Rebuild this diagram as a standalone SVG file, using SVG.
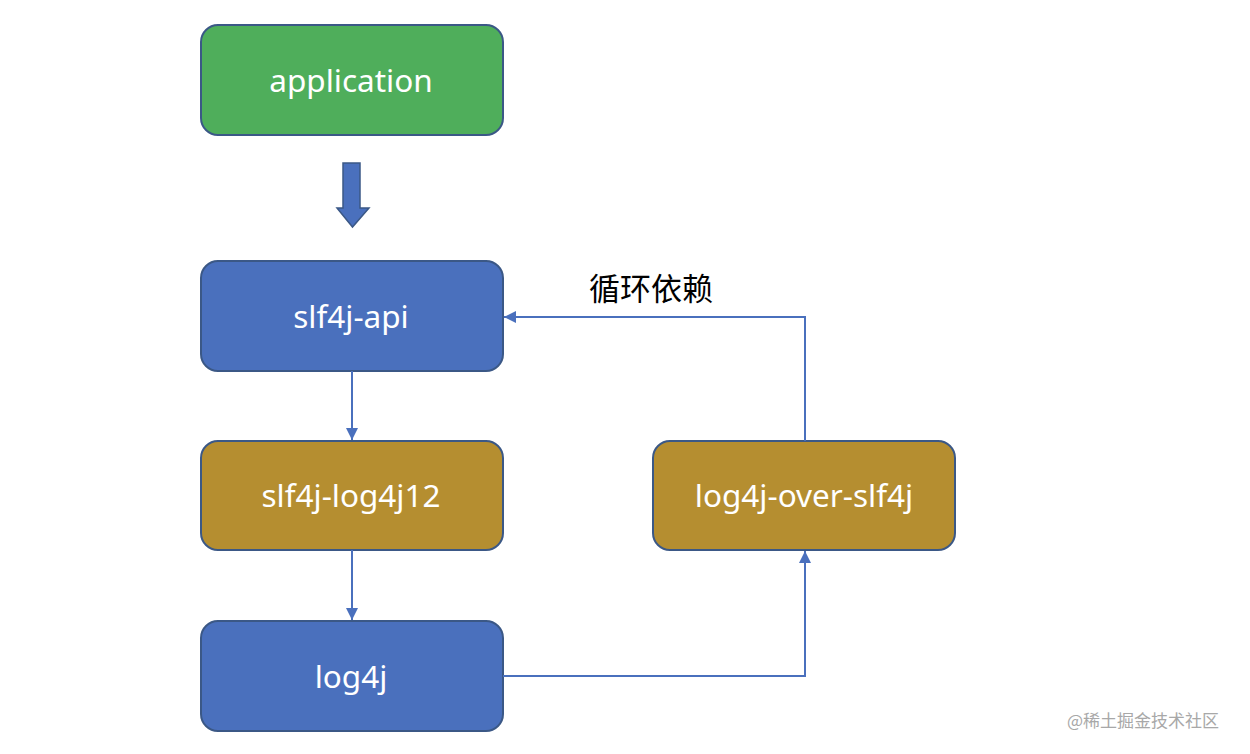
<svg xmlns="http://www.w3.org/2000/svg" width="1250" height="754" viewBox="0 0 1250 754">
<style>
.node rect{stroke:#3b5886;stroke-width:2}
.green rect{fill:#4fae5b}
.blue rect{fill:#4a70bd}
.gold rect{fill:#b58e30}
.node text{font-family:"Noto Sans","Liberation Sans",sans-serif;font-size:31.5px;fill:#ffffff;text-anchor:middle;dominant-baseline:central}
.conn{fill:none;stroke:#4a70bd;stroke-width:2}
.lbl{font-family:"Noto Sans CJK SC",sans-serif;font-size:31px;fill:#000}
.wm{font-family:"Noto Sans CJK SC",sans-serif;font-size:17px;fill:#a8a8a8}
</style>
<defs>
<marker id="ah2" viewBox="0 0 10 10" refX="10" refY="5" markerWidth="12" markerHeight="12" markerUnits="userSpaceOnUse" orient="auto"><path d="M0,0L10,5L0,10z" fill="#4a70bd"/></marker>
</defs>
<rect width="1250" height="754" fill="#fff"/>
<g id="n-application" class="node green"><rect x="201" y="25" width="302" height="110" rx="17"/><text x="351" y="79">application</text></g>
<g id="n-slf4j-api" class="node blue"><rect x="201" y="261" width="302" height="110" rx="17"/><text x="351" y="315">slf4j-api</text></g>
<g id="n-slf4j-log4j12" class="node gold"><rect x="201" y="441" width="302" height="109" rx="17"/><text x="351" y="494">slf4j-log4j12</text></g>
<g id="n-log4j" class="node blue"><rect x="201" y="621" width="302" height="110" rx="17"/><text x="351" y="675">log4j</text></g>
<g id="n-log4j-over-slf4j" class="node gold"><rect x="653" y="441" width="302" height="109" rx="17"/><text x="804" y="494">log4j-over-slf4j</text></g>
<g id="connectors">
<path d="M343,163H360V208H369L352.5,227L337,208H343Z" fill="#4a70bd" stroke="#3b5886" stroke-width="1.5"/>
<path class="conn" d="M352,371V440" marker-end="url(#ah2)"/>
<path class="conn" d="M352,550V620" marker-end="url(#ah2)"/>
<path class="conn" d="M503,676H805V551" marker-end="url(#ah2)"/>
<path class="conn" d="M805,441V317H504" marker-end="url(#ah2)"/>
<text class="lbl" x="589" y="300">循环依赖</text>
</g>
<text class="wm" x="1067" y="727">@稀土掘金技术社区</text>
</svg>
